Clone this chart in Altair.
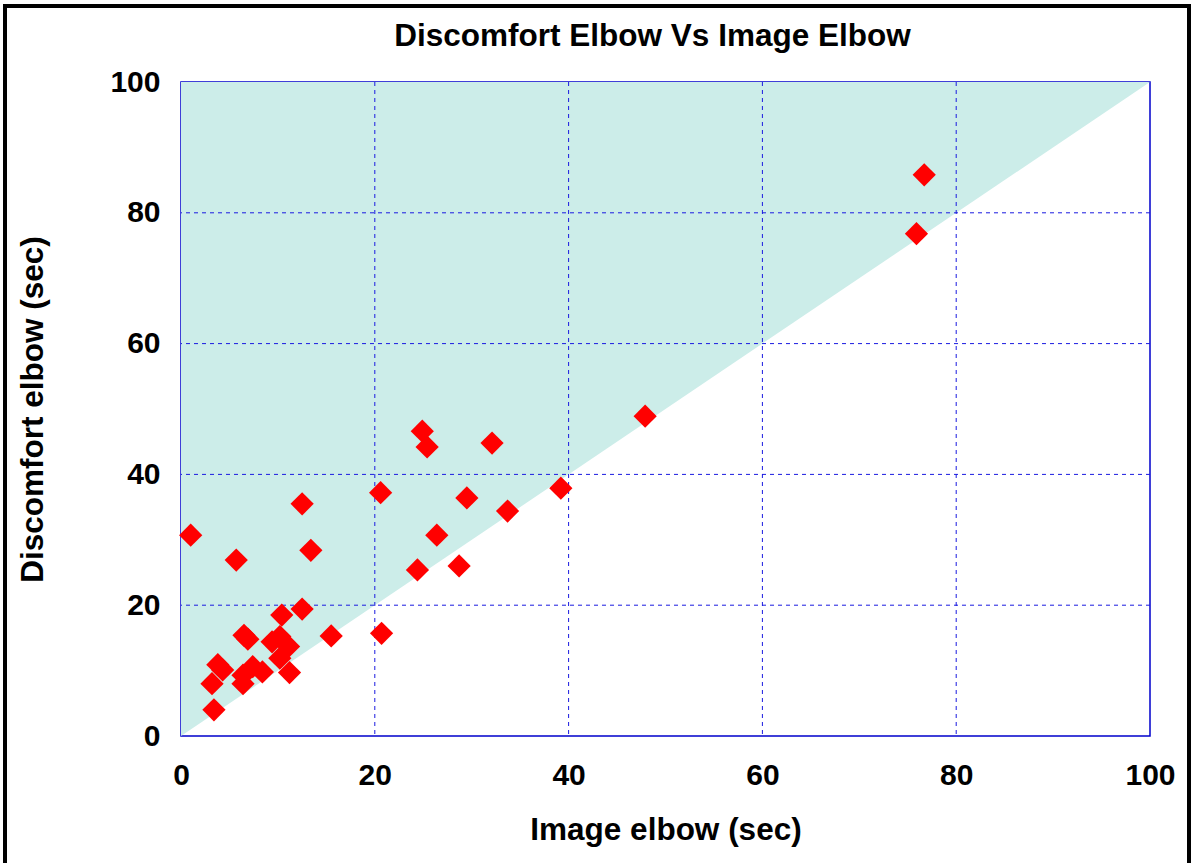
import altair as alt
import pandas as pd

# Scatter data
image_elbow = [1.0, 5.7, 12.5, 13.4, 20.6, 24.9, 25.4, 32.1, 29.5, 26.4, 33.7, 39.2,
               24.4, 28.7, 20.7, 47.9, 75.9, 76.7,
               6.5, 6.9, 3.8, 4.3, 3.2, 3.4, 7.4, 6.4, 6.4, 8.4, 9.4, 10.2, 11.1,
               10.2, 11.2, 10.4, 12.5, 15.5]
discomfort_elbow = [30.7, 26.9, 35.5, 28.4, 37.2, 46.6, 44.2, 44.8, 36.4, 30.7, 34.4, 37.9,
                    25.4, 26.0, 15.7, 48.9, 76.8, 85.8,
                    15.4, 14.8, 10.9, 10.1, 8.0, 4.0, 10.6, 9.3, 8.0, 9.8, 14.4, 15.2, 13.7,
                    11.9, 9.7, 18.5, 19.4, 15.3]

tick_values = [0, 20, 40, 60, 80, 100]
grid_values = [20, 40, 60, 80]
diag_x = [0, 100]
diag_y = [0, 100]
diag_top = [100, 100]

pts = pd.DataFrame({"img": image_elbow, "dis": discomfort_elbow})
diag = pd.DataFrame({"x": diag_x, "y": diag_y, "y2": diag_top})
grid = pd.DataFrame({"v": grid_values})

xscale = alt.Scale(domain=[0, 100], nice=False, zero=False)
yscale = alt.Scale(domain=[0, 100], nice=False, zero=False)

FONT = "Liberation Sans"
FS = 30
TFS = 31.5

xaxis = alt.Axis(values=tick_values, grid=False, ticks=False, domain=False, labelFlush=False,
                 labelFontSize=FS, labelFontWeight="bold", labelColor="black", labelFont=FONT,
                 labelPadding=24, title="Image elbow (sec)", titleFontSize=TFS,
                 titleFontWeight="bold", titleFont=FONT, titleColor="black", titlePadding=24)
yaxis = alt.Axis(values=tick_values, grid=False, ticks=False, domain=False, labelFlush=False,
                 labelFontSize=FS, labelFontWeight="bold", labelColor="black", labelFont=FONT,
                 labelPadding=21, title="Discomfort elbow (sec)", titleFontSize=TFS,
                 titleFontWeight="bold", titleFont=FONT, titleColor="black", titlePadding=60)

area = alt.Chart(diag).mark_area(color="#ccede9", opacity=1).encode(
    x=alt.X("x:Q", scale=xscale, axis=xaxis),
    y=alt.Y("y:Q", scale=yscale, axis=yaxis),
    y2="y2:Q",
)

hgrid = alt.Chart(grid).mark_rule(color="#1a1ae0", strokeWidth=1, strokeDash=[4, 4]).encode(
    y=alt.Y("v:Q", scale=yscale)
)
vgrid = alt.Chart(grid).mark_rule(color="#1a1ae0", strokeWidth=1, strokeDash=[4, 4]).encode(
    x=alt.X("v:Q", scale=xscale)
)

points = alt.Chart(pts).mark_point(shape="diamond", filled=True, color="#ff0000",
                                   size=540, opacity=1).encode(
    x=alt.X("img:Q", scale=xscale),
    y=alt.Y("dis:Q", scale=yscale),
)

frame = alt.Chart(pd.DataFrame({"a": [0]})).mark_rect(
    fill=None, stroke="black", strokeWidth=4).encode(
    x=alt.value(-176), x2=alt.value(1008), y=alt.value(-76), y2=alt.value(800)
)

chart = alt.layer(area, hgrid, vgrid, points, frame).properties(
    width=969, height=654,
    title=alt.TitleParams("Discomfort Elbow Vs Image Elbow", fontSize=TFS, fontWeight="bold",
                          font=FONT, color="black", anchor="middle", frame="group",
                          dx=-13, dy=48, offset=0),
    autosize=alt.AutoSizeParams(type="none"),
    padding={"left": 181, "top": 82, "right": 43, "bottom": 127},
).configure(background="white").configure_view(stroke="#0000cc", strokeWidth=1.5)

chart.save("out.html", embed_options={"renderer": "svg", "actions": False})
